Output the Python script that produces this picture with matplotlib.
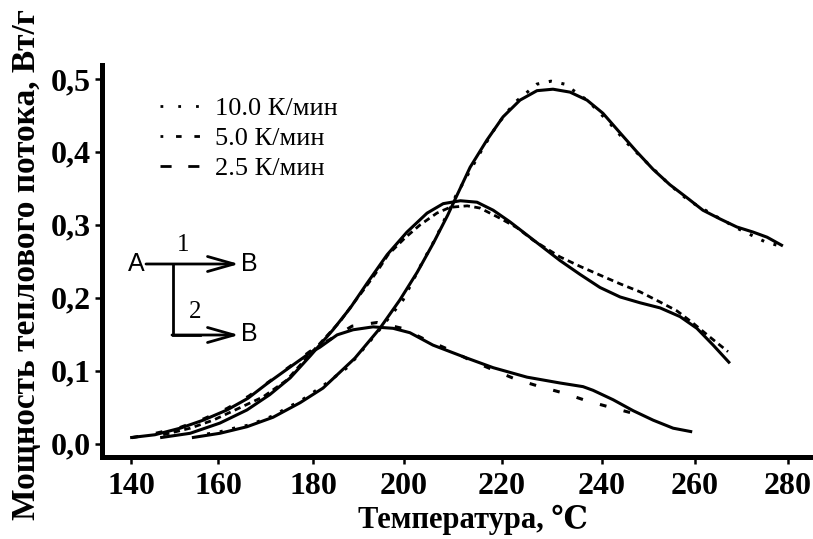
"""DSC curves: heat flow vs temperature at three heating rates, with A->B scheme."""
from __future__ import annotations

import matplotlib

matplotlib.use("Agg")
import matplotlib.pyplot as plt
import numpy as np
from matplotlib.lines import Line2D

# the printed axis is hand-drawn, its ticks are not evenly spaced
AXIS_T = [130, 140, 160, 180, 200, 220, 240, 260, 280, 290]
AXIS_PX = [87.5, 131, 218, 313, 404, 502, 602, 695, 788, 834.5]

X_TICKS = [140, 160, 180, 200, 220, 240, 260, 280]
Y_TICKS = [0.0, 0.1, 0.2, 0.3, 0.4, 0.5]
Y_LABELS = ["0,0", "0,1", "0,2", "0,3", "0,4", "0,5"]

# solid curves
T_10 = [154, 160.4, 166.1, 171.6, 177.3, 182.2, 189.2, 194.7, 199.1, 202.7, 206, 208.9, 210.5, 213.5, 216.9, 220.2,
        223.6, 227, 230.2, 233.6, 237, 240.2, 243.9, 247.5, 251, 254.6, 258.3, 261.7, 265.4, 269, 272.5, 275.5, 278.9]
Q_10 = [0.008, 0.014, 0.023, 0.036, 0.056, 0.076, 0.117, 0.158, 0.197, 0.235, 0.275, 0.313, 0.336, 0.379, 0.416, 0.448,
        0.471, 0.484, 0.486, 0.482, 0.471, 0.453, 0.426, 0.400, 0.376, 0.355, 0.337, 0.320, 0.308, 0.297, 0.290, 0.283, 0.271]

T_5 = [146.7, 153.6, 160.4, 166.1, 170.9, 175.2, 179.4, 184.4, 188.2, 191.9, 196.3, 200.6, 204.7, 208, 211.5, 214.9,
       218.2, 221.6, 225, 228.2, 231.6, 235.6, 239.6, 243.9, 248.2, 252.5, 256.8, 260.4, 263.9, 267.5]
Q_5 = [0.008, 0.014, 0.028, 0.046, 0.067, 0.090, 0.120, 0.156, 0.186, 0.220, 0.259, 0.290, 0.316, 0.329, 0.333, 0.331,
       0.320, 0.304, 0.286, 0.269, 0.251, 0.232, 0.214, 0.201, 0.193, 0.186, 0.174, 0.158, 0.135, 0.110]

T_25 = [139.8, 145.5, 151.3, 156.6, 161.9, 166.3, 170.5, 175.2, 179.3, 181.5, 185.3, 188.8, 193.2, 197.6, 201.2, 205.9,
        212.9, 218.2, 225, 231.6, 236.2, 238.2, 242.4, 246.7, 251, 255.3, 259.4]
Q_25 = [0.008, 0.012, 0.021, 0.032, 0.046, 0.062, 0.083, 0.105, 0.124, 0.132, 0.149, 0.156, 0.160, 0.158, 0.152, 0.135,
        0.117, 0.104, 0.091, 0.083, 0.078, 0.073, 0.060, 0.045, 0.032, 0.021, 0.016]

# broken curves
T_10_D = [157.5, 160.4, 163.4, 166.3, 169.3, 172, 174.5, 177.3, 179.8, 182.4, 187.7, 194.1, 199.8, 203.7, 206.5, 210.6,
          215.9, 219, 222.6, 227, 229.8, 232.5, 237.2, 241.3, 245.4, 249.7, 254.2, 258.7, 264.1, 269.5, 275.3, 278.3]
Q_10_D = [0.013, 0.016, 0.021, 0.025, 0.032, 0.039, 0.049, 0.058, 0.069, 0.080, 0.105, 0.152, 0.197, 0.248, 0.282, 0.340,
          0.403, 0.437, 0.468, 0.493, 0.497, 0.493, 0.470, 0.442, 0.412, 0.385, 0.357, 0.333, 0.313, 0.294, 0.276, 0.271]

T_5_D = [147.4, 153.6, 158.9, 164.6, 169.5, 174.5, 177.9, 185.9, 188.6, 191.4, 194.3, 196.5, 200.2, 203.3, 206.7, 209.4,
         212.9, 215.5, 219.6, 223, 226.2, 231.6, 235.6, 239.6, 243.9, 248.2, 252.5, 256.1, 259.6, 263.2, 267.1]
Q_5_D = [0.012, 0.021, 0.032, 0.049, 0.064, 0.087, 0.112, 0.167, 0.190, 0.213, 0.238, 0.259, 0.282, 0.300, 0.316, 0.324,
         0.326, 0.323, 0.309, 0.296, 0.279, 0.256, 0.243, 0.231, 0.219, 0.208, 0.194, 0.182, 0.165, 0.146, 0.126]

T_25_D = [140.2, 145.7, 151.3, 156.8, 161.9, 166.5, 170.8, 175, 179.3, 188.6, 194.1, 199.6, 203.9, 208.4, 213.3, 218.2,
          222.8, 227.6, 232.4, 237.2, 242.2, 247.5]
Q_25_D = [0.008, 0.014, 0.022, 0.034, 0.048, 0.065, 0.085, 0.105, 0.126, 0.161, 0.166, 0.158, 0.144, 0.131, 0.115, 0.101,
          0.088, 0.078, 0.069, 0.058, 0.049, 0.040]

LEGEND_LABELS = ["10.0 К/мин", "5.0 К/мин", "2.5 К/мин"]

SERIF = ["Liberation Serif", "DejaVu Serif"]
SANS = ["Liberation Sans", "DejaVu Sans"]
W, H = 813, 539


def to_px(t):
    return np.interp(t, AXIS_T, AXIS_PX)


def from_px(p):
    return np.interp(p, AXIS_PX, AXIS_T)


def draw_scheme(fig):
    """A -> B scheme, drawn on a full-figure overlay in pixel coordinates."""
    ov = fig.add_axes([0, 0, 1, 1], facecolor="none")
    ov.set_xlim(0, W)
    ov.set_ylim(H, 0)
    ov.axis("off")
    ov.plot([173, 173, 200], [264, 335, 335], color="black", lw=2.0, solid_joinstyle="miter")
    for y in (264, 335):
        start = 146 if y == 264 else 172
        ov.annotate("", xy=(239, y), xytext=(start, y),
                    arrowprops=dict(arrowstyle="->,head_length=1.9,head_width=0.54", color="black", lw=2.0,
                                    shrinkA=0, shrinkB=0, mutation_scale=10))
    ov.text(136, 264, "A", family=SANS, fontsize=18, ha="center", va="center")
    ov.text(249, 264, "B", family=SANS, fontsize=18, ha="center", va="center")
    ov.text(249, 334, "B", family=SANS, fontsize=18, ha="center", va="center")
    ov.text(183, 245, "1", family=SERIF, fontsize=18, ha="center", va="center")
    ov.text(195, 312, "2", family=SERIF, fontsize=18, ha="center", va="center")


def main() -> None:
    fig = plt.figure(figsize=(W / 100, H / 100), dpi=100)
    ax = fig.add_axes([101.5 / W, 1 - 456.5 / H, (W - 101.5) / W, (456.5 - 65) / H])
    ax.set_xscale("function", functions=(to_px, from_px))
    ax.set_xlim(from_px(101.5), from_px(W))
    ax.set_ylim((443.5 - 456.5) / 729, (443.5 - 65) / 729)

    solid = dict(color="black", lw=2.2, solid_capstyle="butt", solid_joinstyle="round")
    ax.plot(T_10, Q_10, **solid)
    ax.plot(T_5, Q_5, **solid)
    ax.plot(T_25, Q_25, **solid)

    ax.plot(T_10_D, Q_10_D, color="black", lw=2.2, ls=(0, (1, 3.2)))
    ax.plot(T_5_D, Q_5_D, color="black", lw=2.0, ls=(0, (2.3, 1.6)))
    ax.plot(T_25_D, Q_25_D, color="black", lw=2.2, ls=(0, (2.2, 5.8)))

    ax.spines[["top", "right"]].set_visible(False)
    ax.spines["left"].set_linewidth(3.6)
    ax.spines["bottom"].set_linewidth(3.6)
    ax.set_xticks(X_TICKS, [str(t) for t in X_TICKS], family=SERIF, fontsize=23, fontweight="bold")
    ax.set_yticks(Y_TICKS, Y_LABELS, family=SERIF, fontsize=23, fontweight="bold")
    ax.minorticks_off()
    ax.tick_params(axis="y", direction="out", length=5, width=1.8, pad=3)
    ax.tick_params(axis="x", direction="out", length=5, width=1.8, pad=6.5)

    handles = [
        Line2D([], [], color="black", lw=2.0, ls=(0, (1, 5.4))),
        Line2D([], [], color="black", lw=2.0, ls=(0, (1, 4.6, 2, 4.6, 2, 4.6))),
        Line2D([], [], color="black", lw=2.0, ls=(0, (4, 6))),
    ]
    ax.legend(handles, LEGEND_LABELS, loc="upper left", bbox_to_anchor=(0.082, 0.92), frameon=False,
              borderpad=0, borderaxespad=0, handlelength=1.55, handletextpad=0.55, labelspacing=0.25,
              prop={"family": SERIF, "size": 19})

    fig.text(27 / W, 1 - 265 / H, "Мощность теплового потока, Вт/г", family=SERIF, fontsize=24,
             fontweight="bold", rotation=90, ha="center", va="center")
    fig.text(473 / W, 1 - 520 / H, "Температура, ℃", family=SERIF, fontsize=22,
             fontweight="bold", ha="center", va="center")

    draw_scheme(fig)
    fig.savefig("out.png", dpi=100)
    plt.close(fig)


if __name__ == "__main__":
    main()
